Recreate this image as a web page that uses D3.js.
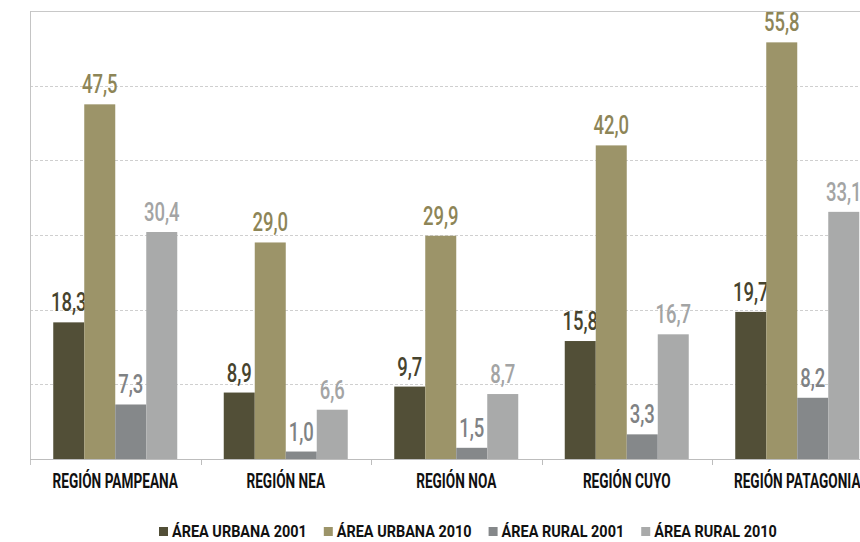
<!DOCTYPE html>
<html>
<head>
<meta charset="utf-8">
<script src="https://cdn.jsdelivr.net/npm/d3@7"></script>
<style>
  html, body { margin: 0; padding: 0; background: #fff; }
  svg { display: block; font-family: Roboto, "Liberation Sans", sans-serif; }
</style>
</head>
<body>
<div id="chart"></div>
<script>
// data
const REGIONS = ["REGIÓN PAMPEANA", "REGIÓN NEA", "REGIÓN NOA", "REGIÓN CUYO", "REGIÓN PATAGONIA"]
const SERIES = ["ÁREA URBANA 2001", "ÁREA URBANA 2010", "ÁREA RURAL 2001", "ÁREA RURAL 2010"]
const URBANA_2001 = [18.3, 8.9, 9.7, 15.8, 19.7]
const URBANA_2010 = [47.5, 29.0, 29.9, 42.0, 55.8]
const RURAL_2001 = [7.3, 1.0, 1.5, 3.3, 8.2]
const RURAL_2010 = [30.4, 6.6, 8.7, 16.7, 33.1]
const Y_TICKS = [10, 20, 30, 40, 50]

const VALUES = [URBANA_2001, URBANA_2010, RURAL_2001, RURAL_2010]
const BAR_COLORS = ["#524f37", "#9c9469", "#85888a", "#a9aaaa"]
const LABEL_COLORS = ["#46432e", "#8d8557", "#7f8284", "#a3a4a4"]

const width = 860, height = 542
const margin = { top: 11, left: 30, bottom: 83 }
const bandW = 170.5
const fmt = v => d3.format(".1f")(v).replace(".", ",")

const svg = d3.select("#chart").append("svg")
  .attr("width", width)
  .attr("height", height)

const y = d3.scaleLinear()
  .domain([0, 60])
  .range([height - margin.bottom, margin.top])

const x0 = d3.scaleBand()
  .domain(REGIONS)
  .range([margin.left, margin.left + bandW * REGIONS.length])

const x1 = d3.scaleBand()
  .domain(SERIES)
  .range([0, x0.bandwidth()])
  .paddingOuter(0.75)

const baseY = y(0)

// grid
svg.append("g").selectAll("line")
  .data(Y_TICKS)
  .join("line")
  .attr("x1", margin.left).attr("x2", width)
  .attr("y1", d => Math.round(y(d)) + 0.5).attr("y2", d => Math.round(y(d)) + 0.5)
  .attr("stroke", "#cfcfcf")
  .attr("stroke-dasharray", "3,2")

svg.append("line")
  .attr("x1", margin.left).attr("x2", width)
  .attr("y1", Math.round(y(60)) + 0.5).attr("y2", Math.round(y(60)) + 0.5)
  .attr("stroke", "#c8c8c8")

// bars + value labels, series by series so later bars sit on top of earlier labels
SERIES.forEach((s, si) => {
  const g = svg.append("g")
  const data = REGIONS.map((r, i) => ({ region: r, value: VALUES[si][i] }))

  g.selectAll("rect")
    .data(data)
    .join("rect")
    .attr("x", d => x0(d.region) + x1(s))
    .attr("width", x1.bandwidth())
    .attr("y", d => y(d.value))
    .attr("height", d => baseY - y(d.value))
    .attr("fill", BAR_COLORS[si])

  g.selectAll("text")
    .data(data)
    .join("text")
    .attr("transform", d => `translate(${x0(d.region) + x1(s) + x1.bandwidth() / 2},${y(d.value) - 11}) scale(0.74,1)`)
    .attr("text-anchor", "middle")
    .attr("font-size", 25)
    .attr("font-weight", 500)
    .attr("fill", LABEL_COLORS[si])
    .text(d => fmt(d.value))
})

// axes
svg.append("line")
  .attr("x1", margin.left + 0.5).attr("x2", margin.left + 0.5)
  .attr("y1", margin.top).attr("y2", baseY + 6)
  .attr("stroke", "#c4c4c4")

svg.append("line")
  .attr("x1", margin.left).attr("x2", width)
  .attr("y1", baseY + 0.5).attr("y2", baseY + 0.5)
  .attr("stroke", "#bdbdbd")

svg.append("g").selectAll("line")
  .data(REGIONS.slice(1))
  .join("line")
  .attr("x1", d => Math.round(x0(d)) + 0.5).attr("x2", d => Math.round(x0(d)) + 0.5)
  .attr("y1", baseY).attr("y2", baseY + 6)
  .attr("stroke", "#bdbdbd")

svg.append("g").selectAll("text")
  .data(REGIONS)
  .join("text")
  .attr("transform", d => `translate(${x0(d) + x0.bandwidth() / 2},${baseY + 29}) scale(0.7,1)`)
  .attr("text-anchor", "middle")
  .attr("font-size", 19.5)
  .attr("font-weight", "bold")
  .attr("fill", "#111")
  .text(d => d)

// legend
const legend = svg.append("g")
let lx = 159
SERIES.forEach((s, si) => {
  legend.append("rect")
    .attr("x", lx).attr("y", 527)
    .attr("width", 9).attr("height", 9)
    .attr("fill", BAR_COLORS[si])
  const t = legend.append("text")
    .attr("transform", `translate(${lx + 13},537) scale(0.85,1)`)
    .attr("font-size", 17)
    .attr("font-weight", "bold")
    .attr("fill", "#111")
    .text(s)
  lx += 13 + t.node().getComputedTextLength() * 0.85 + 17
})
</script>
</body>
</html>
